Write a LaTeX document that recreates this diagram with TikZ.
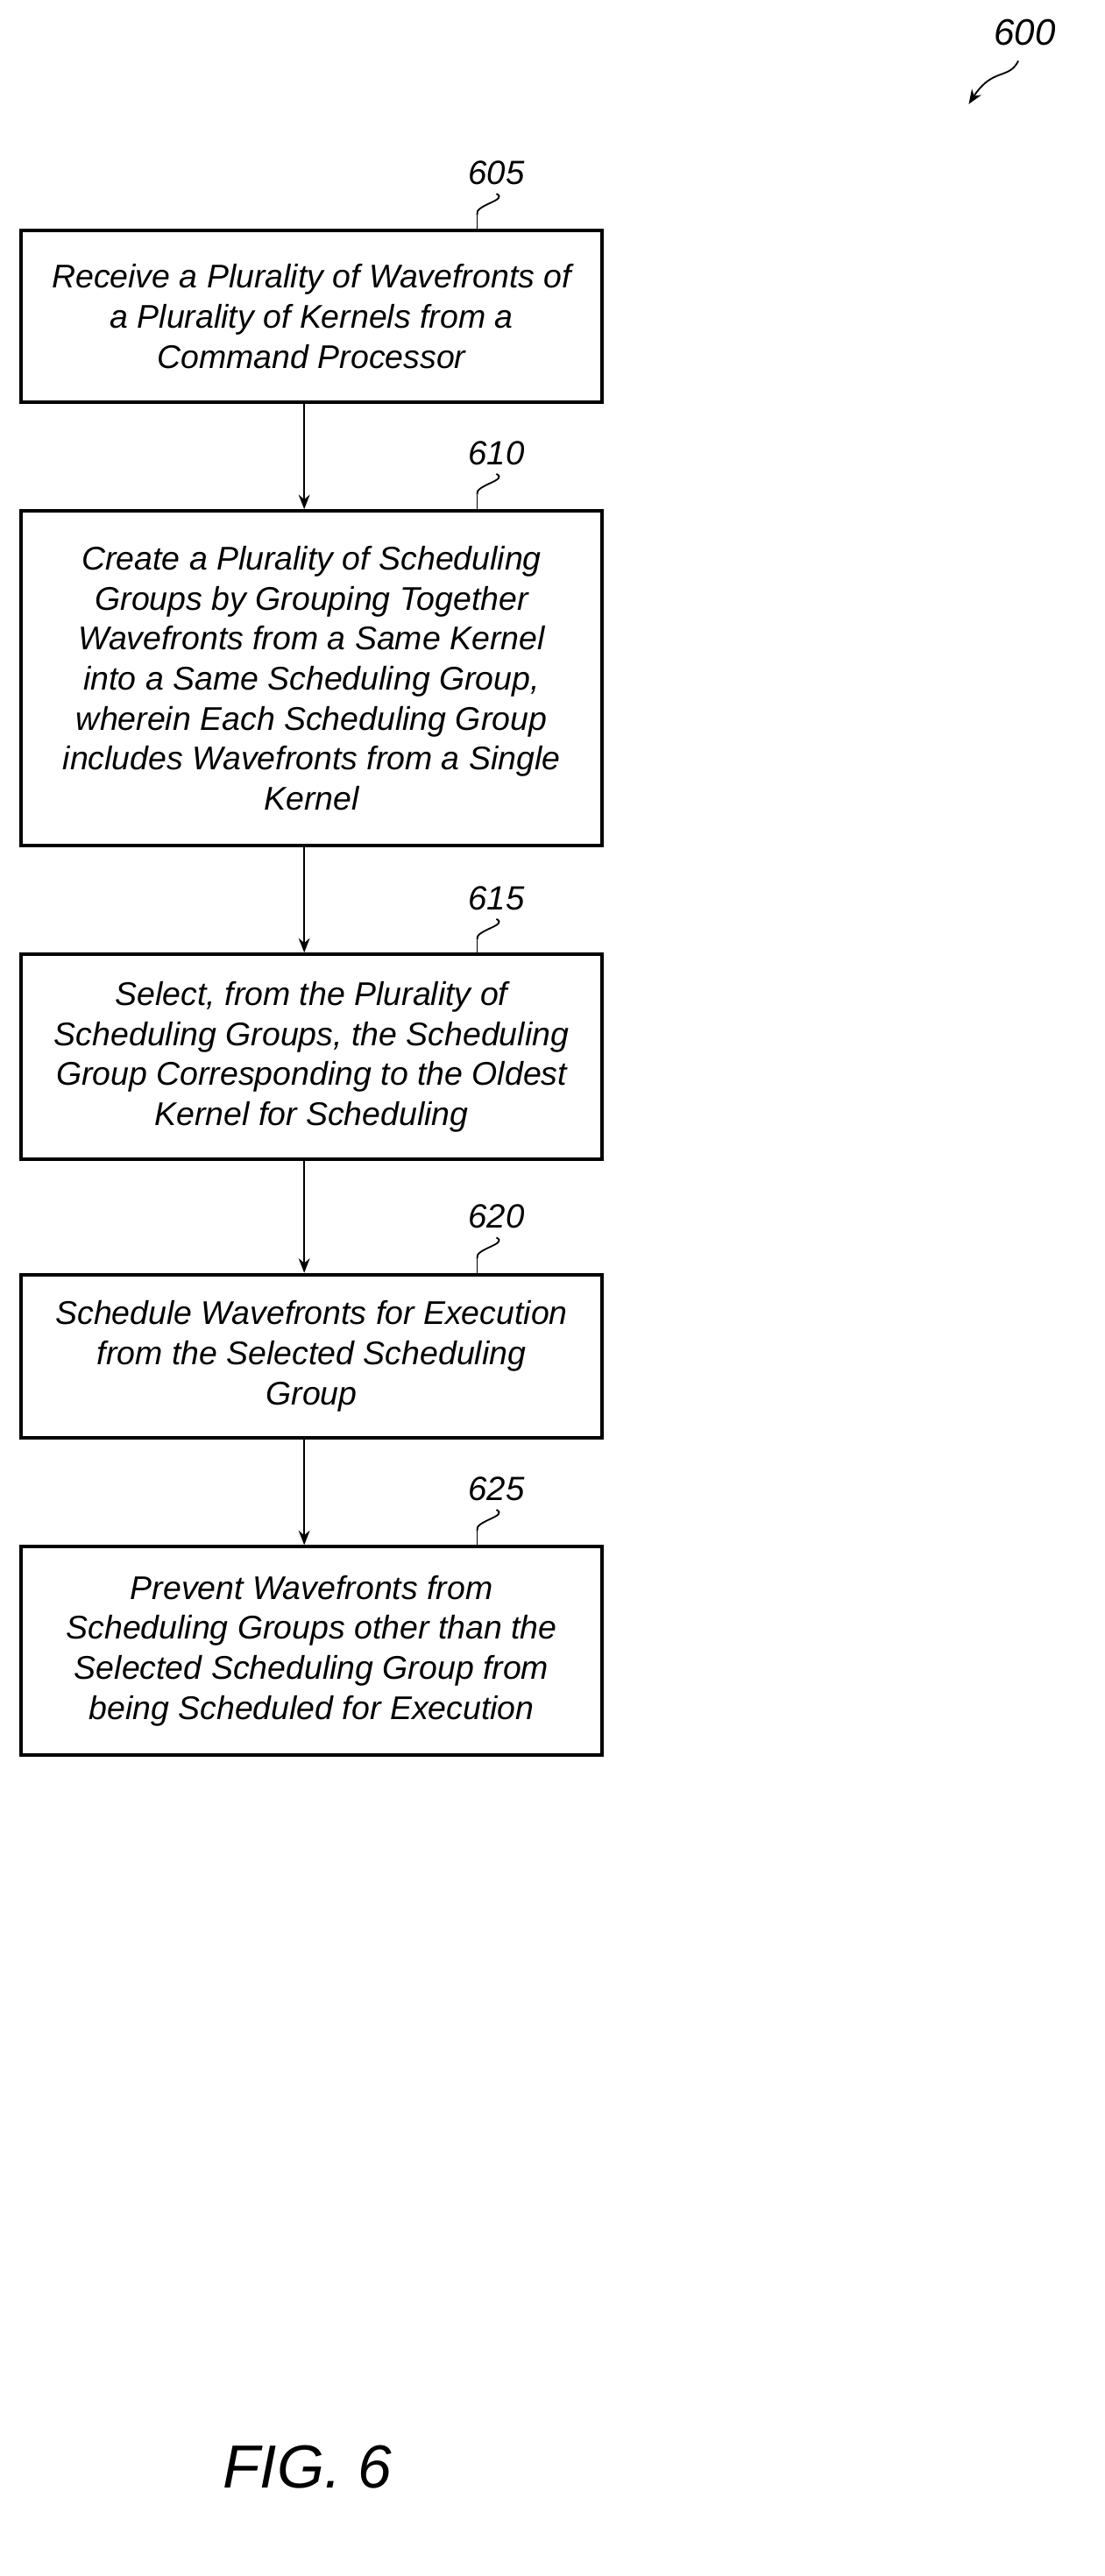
\documentclass[tikz,border=0pt]{standalone}
\usepackage{fontspec}
\setmainfont{Liberation Sans}
\usetikzlibrary{arrows.meta}
\begin{document}
\begin{tikzpicture}[x=1pt,y=-1pt,
 box/.style={draw,line width=2.2pt,inner sep=0pt,font=\itshape\fontsize{20.5}{25}\selectfont,align=center,anchor=north west},
 lab/.style={font=\itshape\fontsize{21}{25}\selectfont},
 arr/.style={-{Stealth[length=9pt,width=7pt]},line width=1pt},
 sq/.style={line width=1pt}]
\useasboundingbox (0,0) rectangle (690,1609);
\node[box,minimum width=363pt,minimum height=107pt] (b1) at (12,143) {Receive a Plurality of Wavefronts of\\a Plurality of Kernels from a\\Command Processor};
\node[box,minimum width=363pt,minimum height=209pt] (b2) at (12,318) {Create a Plurality of Scheduling\\Groups by Grouping Together\\Wavefronts from a Same Kernel\\into a Same Scheduling Group,\\wherein Each Scheduling Group\\includes Wavefronts from a Single\\Kernel};
\node[box,minimum width=363pt,minimum height=128pt] (b3) at (12,595) {Select, from the Plurality of\\Scheduling Groups, the Scheduling\\Group Corresponding to the Oldest\\Kernel for Scheduling};
\node[box,minimum width=363pt,minimum height=102pt] (b4) at (12,795) {Schedule Wavefronts for Execution\\from the Selected Scheduling\\Group};
\node[box,minimum width=363pt,minimum height=130pt] (b5) at (12,965) {Prevent Wavefronts from\\Scheduling Groups other than the\\Selected Scheduling Group from\\being Scheduled for Execution};
\draw[arr] (b1.south -| 190,0) -- (b2.north -| 190,0);
\draw[arr] (b2.south -| 190,0) -- (b3.north -| 190,0);
\draw[arr] (b3.south -| 190,0) -- (b4.north -| 190,0);
\draw[arr] (b4.south -| 190,0) -- (b5.north -| 190,0);
\foreach \n/\t/\y in {b1/605/108, b2/610/283, b3/615/561, b4/620/760, b5/625/930}{
 \node[lab] (l\t) at (310,\y) {\t};
 \coordinate (c\t) at (298,\y+26);
 \draw[sq] (310,\y+13) .. controls (318,\y+17) and (296,\y+20) .. (c\t);
 \draw[sq] (c\t) -- (\n.north -| c\t);
}
\node[lab,font=\itshape\fontsize{23}{27}\selectfont] (l600) at (640,20) {600};
\coordinate (a600) at (605,65);
\draw[sq,-{Stealth[length=9pt,width=7pt]}] (636,38) .. controls (630,50) and (620,42) .. (a600);
\node[font=\itshape\fontsize{38}{42}\selectfont] (fig) at (192,1541) {FIG. 6};
\end{tikzpicture}
\end{document}
